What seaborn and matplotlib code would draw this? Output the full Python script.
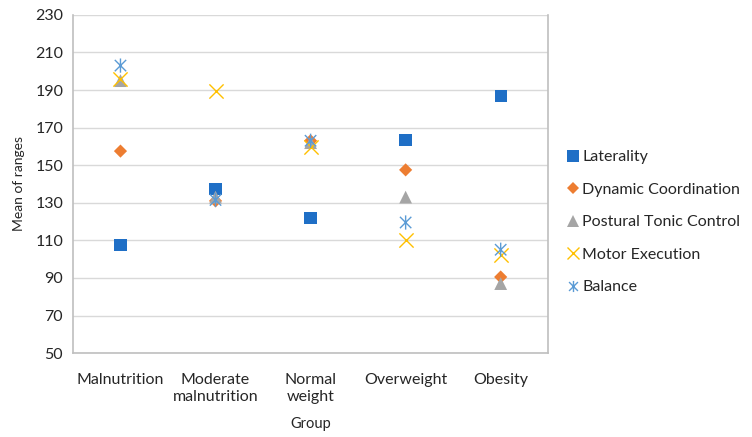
import pandas as pd
import matplotlib
matplotlib.use('Agg')
import matplotlib.pyplot as plt
from matplotlib.lines import Line2D
from matplotlib.path import Path
import seaborn as sns

# Data
groups = ['Malnutrition', 'Moderate\nmalnutrition', 'Normal\nweight', 'Overweight', 'Obesity']
laterality = [107.5, 137.5, 122, 163.5, 187]
dynamic_coordination = [157.5, 131, 163, 147.5, 90.5]
postural_tonic_control = [195, 133, 162, 133, 87]
motor_execution = [196, 189.5, 159.5, 110, 102]
balance = [203, 131.5, 163, 119.5, 105]

series = {
  'Laterality': laterality,
  'Dynamic Coordination': dynamic_coordination,
  'Postural Tonic Control': postural_tonic_control,
  'Motor Execution': motor_execution,
  'Balance': balance,
}

sns.set_theme(style='white')
plt.rcParams['font.family'] = ['Lato', 'DejaVu Sans']

# asterisk without the horizontal bar
star = Path([(-1, -1), (1, 1), (-1, 1), (1, -1), (0, -1.25), (0, 1.25)],
            [Path.MOVETO, Path.LINETO, Path.MOVETO, Path.LINETO, Path.MOVETO, Path.LINETO])

styles = {
  'Laterality': dict(color='#1f6fc6', marker='s', s=78, filled=True),
  'Dynamic Coordination': dict(color='#ed7d31', marker='D', s=45, filled=True),
  'Postural Tonic Control': dict(color='#a5a5a5', marker='^', s=85, filled=True),
  'Motor Execution': dict(color='#ffc000', marker='x', s=105, filled=False),
  'Balance': dict(color='#5b9bd5', marker=star, s=105, filled=False),
}

rows = []
for name, vals in series.items():
  for g, v in zip(groups, vals):
    rows.append({'Group': g, 'Measure': name, 'Value': v})
df = pd.DataFrame(rows)

fig, ax = plt.subplots(figsize=(7.52, 4.37), dpi=100)
fig.subplots_adjust(left=0.097, right=0.729, top=0.966, bottom=0.192)

for name in series:
  st = styles[name]
  sub = df[df['Measure'] == name]
  if st['filled']:
    sns.scatterplot(data=sub, x='Group', y='Value', ax=ax, color=st['color'],
                    marker=st['marker'], s=st['s'], edgecolor='none', linewidth=0, zorder=3)
  else:
    sns.scatterplot(data=sub, x='Group', y='Value', ax=ax, color=st['color'],
                    marker=st['marker'], s=st['s'], linewidth=1.0, zorder=3)
    if name == 'Balance':
      ax.collections[-1].set_facecolor('none')
      ax.collections[-1].set_edgecolor(st['color'])

ax.set_xlim(-0.5, 4.5)
ax.set_ylim(50, 230)
ax.set_yticks(range(50, 231, 20))
ax.yaxis.grid(True, color='#d9d9d9', linewidth=1)
ax.set_axisbelow(True)
for sp in ax.spines.values():
  sp.set_color('#bfbfbf')
  sp.set_linewidth(1.2)
ax.spines['top'].set_visible(False)

ax.tick_params(axis='both', length=0, labelsize=11.5, colors='#262626')
ax.tick_params(axis='x', pad=14)
ax.tick_params(axis='y', pad=7)
for lbl in ax.get_xticklabels():
  lbl.set_linespacing(1.35)
ax.set_xlabel('Group', fontsize=10.5, color='#262626', labelpad=9)
ax.set_ylabel('Mean of ranges', fontsize=10, color='#262626', labelpad=7)

handles = []
for name in series:
  st = styles[name]
  if st['filled']:
    ms = {'s': 8, 'D': 6, '^': 8}[st['marker']]
    h = Line2D([], [], linestyle='none', marker=st['marker'], color=st['color'],
               markeredgewidth=0, markersize=ms)
  else:
    h = Line2D([], [], linestyle='none', marker=st['marker'], color=st['color'],
               markerfacecolor='none', markeredgewidth=1, markersize=8)
  handles.append(h)

fig.legend(handles, list(series.keys()), loc='upper left', bbox_to_anchor=(568 / 752, 1 - 150 / 437),
           frameon=False, fontsize=11.5, handlelength=0.6, handletextpad=0.3,
           labelspacing=1.15, labelcolor='#262626', borderpad=0, borderaxespad=0)

fig.savefig('out.png', dpi=100)
